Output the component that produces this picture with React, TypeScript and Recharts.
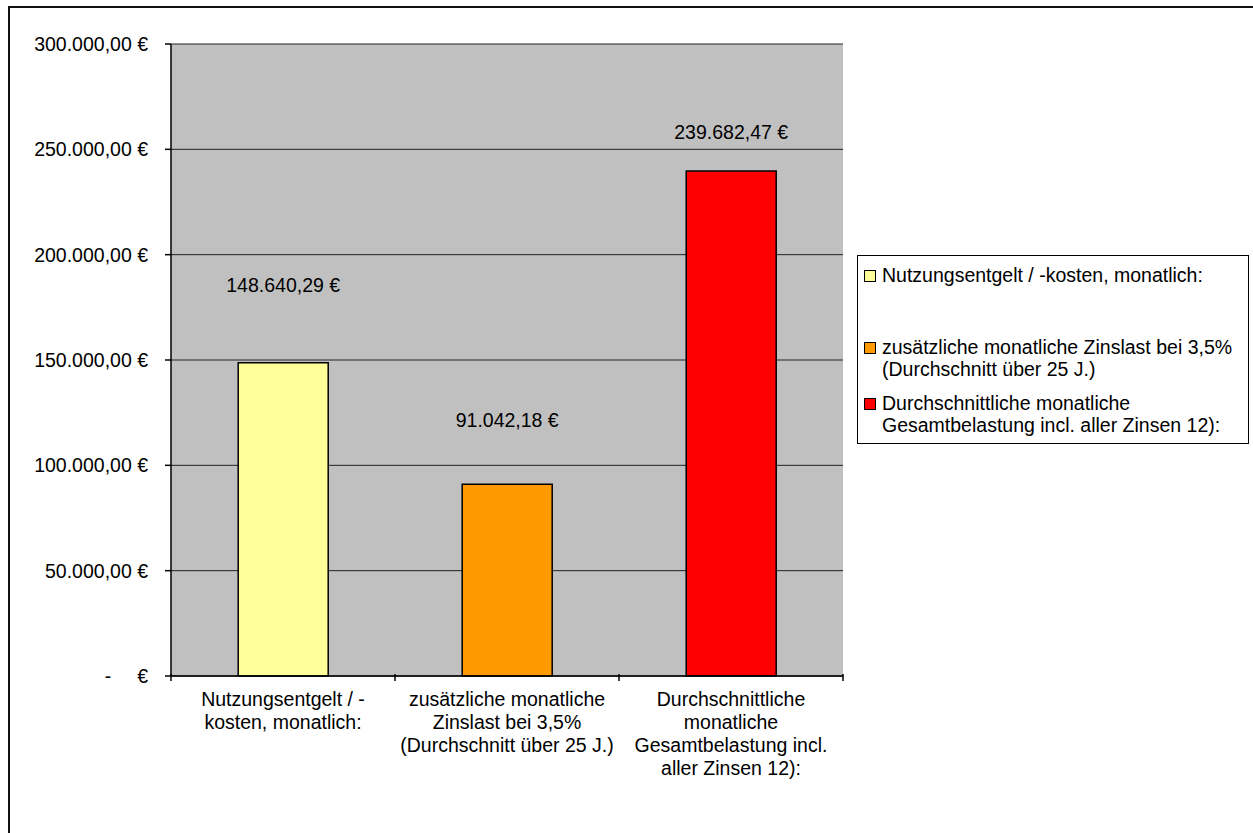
import React from "react";
import {
  BarChart,
  Bar,
  Cell,
  XAxis,
  YAxis,
  CartesianGrid,
  LabelList,
} from "recharts";

const categories = [
  "Nutzungsentgelt / -\nkosten, monatlich:",
  "zusätzliche monatliche\nZinslast bei 3,5%\n(Durchschnitt über 25 J.)",
  "Durchschnittliche\nmonatliche\nGesamtbelastung incl.\naller Zinsen 12):",
];
const legendNames = [
  "Nutzungsentgelt / -kosten, monatlich:",
  "zusätzliche monatliche Zinslast bei 3,5%\n(Durchschnitt über 25 J.)",
  "Durchschnittliche monatliche\nGesamtbelastung incl. aller Zinsen 12):",
];
const values = [148640.29, 91042.18, 239682.47];
const colors = ["#FFFF99", "#FF9900", "#FF0000"];
const yTicks = [0, 50000, 100000, 150000, 200000, 250000, 300000];
// Excel labels were dragged by hand, so each sits at its own height above the bar
const labelLift = [78, 64, 39];

const FONT = '"Liberation Sans", Arial, sans-serif';
const FS = 19.5;

const data = categories.map((c, i) => ({ name: c, value: values[i] }));

function fmtEuro(v: number) {
  const [int, dec] = v.toFixed(2).split(".");
  const grouped = int.replace(/\B(?=(\d{3})+(?!\d))/g, ".");
  return `${grouped},${dec} €`;
}

function YTick(props: any) {
  const { x, y, payload } = props;
  if (payload.value === 0) {
    return (
      <g>
        <text x={x - 55} y={y} dy="0.355em" textAnchor="middle" fontSize={FS} fontFamily={FONT} fill="#000">-</text>
        <text x={x - 15} y={y} dy="0.355em" textAnchor="end" fontSize={FS} fontFamily={FONT} fill="#000">€</text>
      </g>
    );
  }
  return (
    <text x={x - 15} y={y} dy="0.355em" textAnchor="end" fontSize={FS} fontFamily={FONT} fill="#000">
      {fmtEuro(payload.value)}
    </text>
  );
}

function XTick(props: any) {
  const { x, y, payload, index } = props;
  const half = payload.offset ?? 112;
  const lines = String(payload.value).split("\n");
  const axisY = y - 10;
  return (
    <g>
      {index === 0 && <line x1={x - half} x2={x - half} y1={axisY} y2={axisY + 7} stroke="#000" strokeWidth={1.5} />}
      <line x1={x + half} x2={x + half} y1={axisY} y2={axisY + 7} stroke="#000" strokeWidth={1.5} />
      <text x={x} y={axisY + 25} textAnchor="middle" fontSize={FS} fontFamily={FONT} fill="#000">
        {lines.map((l, i) => (
          <tspan key={i} x={x} dy={i === 0 ? "0.355em" : 23}>{l}</tspan>
        ))}
      </text>
    </g>
  );
}

function ValueLabel(props: any) {
  const { x, y, width, value, index } = props;
  return (
    <text x={x + width / 2} y={y - labelLift[index]} dy="0.355em" textAnchor="middle" fontSize={FS} fontFamily={FONT} fill="#000">
      {fmtEuro(value)}
    </text>
  );
}

function LegendBox() {
  return (
    <div
      style={{
        position: "absolute",
        left: 857,
        top: 255,
        width: 392,
        height: 189,
        border: "1px solid #000",
        background: "#fff",
        fontFamily: FONT,
        fontSize: 19.5,
        color: "#000",
        boxSizing: "border-box",
      }}
    >
      {legendNames.map((n, i) => (
        <div
          key={i}
          style={{
            position: "absolute",
            left: 6,
            top: [9, 81, 137][i],
            display: "flex",
            alignItems: "flex-start",
            lineHeight: "21.5px",
          }}
        >
          <span
            style={{
              width: 10,
              height: 10,
              border: "1px solid #000",
              background: colors[i],
              marginTop: 5,
              marginRight: 6,
              flexShrink: 0,
            }}
          />
          <span style={{ whiteSpace: "pre" }}>{n}</span>
        </div>
      ))}
    </div>
  );
}

export default function App() {
  return (
    <div style={{ position: "absolute", left: 0, top: 0, width: 1253, height: 833, overflow: "hidden", background: "#fff" }}>
      <div
        style={{
          position: "absolute",
          left: 8,
          top: 6,
          width: 1400,
          height: 1000,
          borderTop: "2px solid #111",
          borderLeft: "2px solid #111",
        }}
      />
      <div style={{ position: "absolute", left: 0, top: 0 }}>
        <BarChart
          width={1253}
          height={833}
          data={data}
          margin={{ top: 44, right: 410, bottom: 7, left: 0 }}
          barCategoryGap="30%"
        >
          <CartesianGrid vertical={false} fill="#C0C0C0" stroke="#222" strokeWidth={1} />
          <XAxis
            dataKey="name"
            height={150}
            interval={0}
            tickLine={false}
            axisLine={{ stroke: "#000", strokeWidth: 1.5 }}
            tick={<XTick />}
          />
          <YAxis
            width={171}
            domain={[0, 300000]}
            ticks={yTicks}
            interval={0}
            tickSize={6}
            tickLine={{ stroke: "#000", strokeWidth: 1.5 }}
            axisLine={{ stroke: "#000", strokeWidth: 1.5 }}
            tick={<YTick />}
          />
          <YAxis yAxisId="right" orientation="right" width={0} tick={false} tickLine={false} axisLine={{ stroke: "#808080" }} />
          <Bar dataKey="value" stroke="#000" strokeWidth={1.5} isAnimationActive={false}>
            {data.map((d, i) => (
              <Cell key={i} fill={colors[i]} />
            ))}
            <LabelList dataKey="value" content={<ValueLabel />} />
          </Bar>
        </BarChart>
      </div>
      <LegendBox />
    </div>
  );
}
